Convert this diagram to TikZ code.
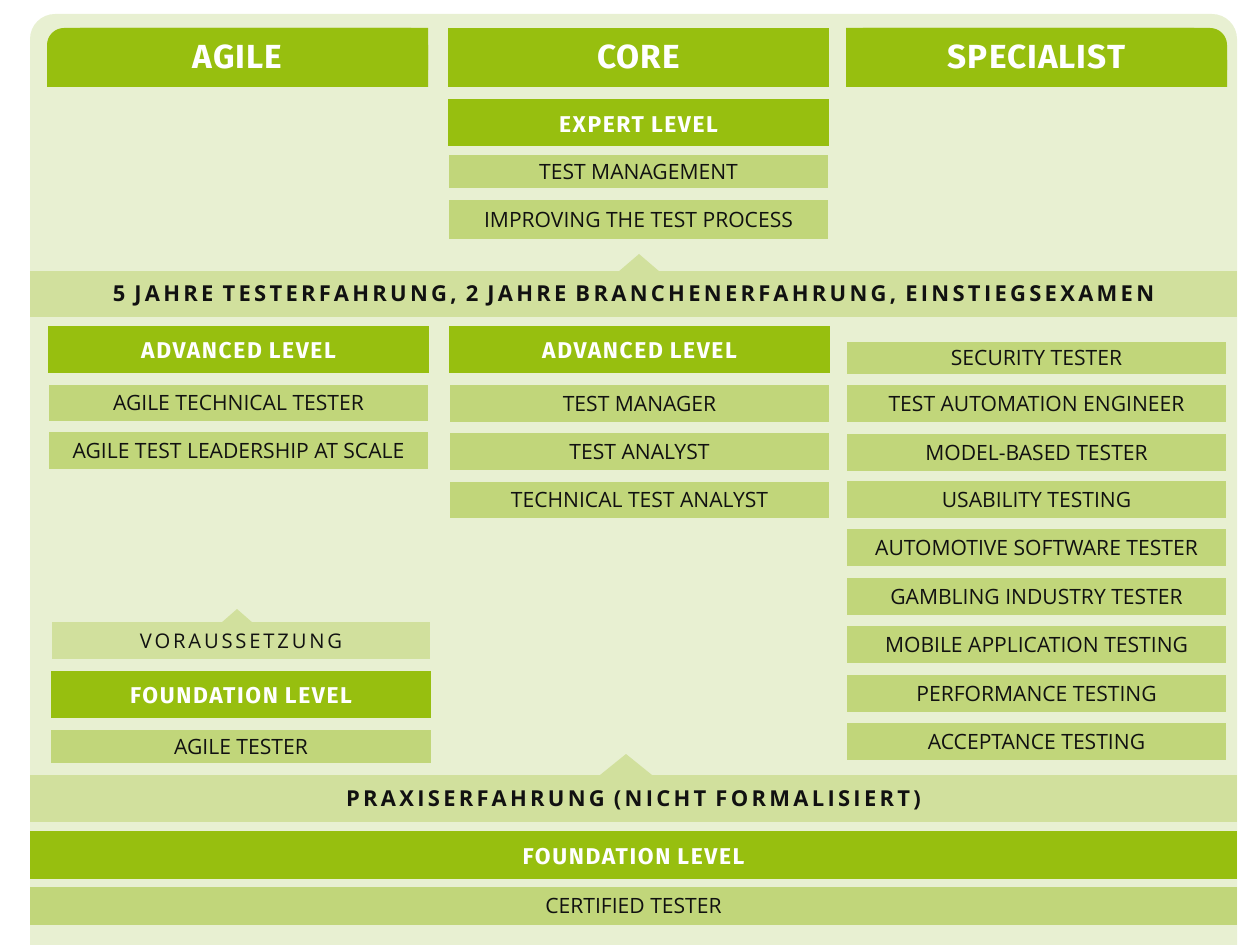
\documentclass[tikz,border=0pt]{standalone}
\usepackage{fontspec}
\setmainfont{Open Sans}
\newfontfamily\headfont[LetterSpace=3]{Fira Sans}
\newfontfamily\levelfont[LetterSpace=7]{Fira Sans}
\newfontfamily\bandfont[LetterSpace=15]{Open Sans}
\newfontfamily\spacedfont[LetterSpace=14]{Open Sans}
\definecolor{dkgreen}{HTML}{97BF0F}
\definecolor{midgreen}{HTML}{C1D67A}
\definecolor{bandgreen}{HTML}{D1E09D}
\definecolor{panelgreen}{HTML}{E8F0D2}
\definecolor{ink}{HTML}{111111}

\begin{document}
\begin{tikzpicture}[x=0.02cm, y=-0.02cm]
    \tikzstyle{headtext}=[inner sep=0pt, text=white, text height=13pt, text depth=0pt, font=\headfont\bfseries\fontsize{19}{22}\selectfont]
    \tikzstyle{headbox}=[headtext, fill=dkgreen, minimum width=7.62cm, minimum height=1.18cm]
    \tikzstyle{levelbox}=[inner sep=0pt, fill=dkgreen, text=white, minimum width=7.62cm, minimum height=0.94cm, text height=10.7pt, text depth=0pt, font=\levelfont\bfseries\fontsize{13}{15}\selectfont]
    \tikzstyle{itembox}=[inner sep=0pt, fill=midgreen, text=ink, minimum width=7.6cm, minimum height=0.74cm, text height=8.6pt, text depth=0pt, font=\fontsize{12}{14}\selectfont]
    \tikzstyle{bandbox}=[inner sep=0pt, fill=bandgreen, text=ink, minimum width=24.14cm, minimum height=0.94cm, text height=8.9pt, text depth=0pt, font=\bandfont\bfseries\fontsize{12.5}{14}\selectfont]

    \useasboundingbox (0,0) rectangle (1239,945);
    \fill[panelgreen, rounded corners=0.5cm] (30,14) rectangle (1237,990);

    \fill[dkgreen, rounded corners=0.34cm] (47,28) rectangle (428,87);
    \fill[dkgreen] (80,28) rectangle (428,87) (47,60) rectangle (428,87);
    \node[headtext] (agile) at (237.5,57.5) {AGILE};
    \node[headbox] (core) at (638.5,57.5) {CORE};
    \fill[dkgreen, rounded corners=0.34cm] (846,28) rectangle (1227,87);
    \fill[dkgreen] (846,28) rectangle (1194,87) (846,60) rectangle (1227,87);
    \node[headtext] (specialist) at (1036.5,57.5) {SPECIALIST};

    \node[levelbox] (expert) at (638.5,123) {EXPERT LEVEL};
    \node[itembox, minimum height=0.66cm] (testmgmt) at (638.5,171.5) {TEST MANAGEMENT};
    \node[itembox, minimum height=0.78cm] (improving) at (638.5,219.5) {IMPROVING THE TEST PROCESS};

    \fill[bandgreen] (618,272) -- (639,254) -- (660,272) -- cycle;
    \node[bandbox, minimum height=0.92cm] (jahre) at (633.5,294) {5 JAHRE TESTERFAHRUNG, 2 JAHRE BRANCHENERFAHRUNG, EINSTIEGSEXAMEN};

    \node[levelbox] (agileadv) at (238.5,349.5) {ADVANCED LEVEL};
    \node[itembox] (agiletech) at (238.5,403) {AGILE TECHNICAL TESTER};
    \node[itembox] (leadership) at (238.5,450.5) {AGILE TEST LEADERSHIP AT SCALE};

    \node[levelbox] (coreadv) at (639.5,349.5) {ADVANCED LEVEL};
    \node[itembox] (testmanager) at (639.5,403.5) {TEST MANAGER};
    \node[itembox] (testanalyst) at (639.5,451.5) {TEST ANALYST};
    \node[itembox] (techanalyst) at (639.5,500) {TECHNICAL TEST ANALYST};

    \node[itembox, minimum height=0.64cm] (security) at (1036.5,358) {SECURITY TESTER};
    \foreach \y/\t [count=\i] in {403.5/TEST AUTOMATION ENGINEER, 452.5/MODEL-BASED TESTER,
        499.5/USABILITY TESTING, 547.5/AUTOMOTIVE SOFTWARE TESTER, 596.5/GAMBLING INDUSTRY TESTER,
        644.5/MOBILE APPLICATION TESTING, 693.5/PERFORMANCE TESTING, 741.5/ACCEPTANCE TESTING}
        \node[itembox] (spec\i) at (1036.5,\y) {\t};

    \fill[bandgreen] (221,623) -- (237,609) -- (253,623) -- cycle;
    \node[itembox, fill=bandgreen, minimum width=7.56cm, font=\spacedfont\fontsize{11.5}{13}\selectfont] (voraussetzung) at (241,640.5) {VORAUSSETZUNG};
    \node[levelbox, minimum width=7.6cm] (agilefound) at (241,694.5) {FOUNDATION LEVEL};
    \node[itembox, minimum height=0.66cm] (agiletester) at (241,746.5) {AGILE TESTER};

    \fill[bandgreen] (600,775) -- (626,754) -- (652,775) -- cycle;
    \node[bandbox] (praxis) at (633.5,798.5) {PRAXISERFAHRUNG (NICHT FORMALISIERT)};
    \node[levelbox, minimum width=24.14cm, minimum height=0.96cm] (foundation) at (633.5,855) {FOUNDATION LEVEL};
    \node[itembox, minimum width=24.14cm, minimum height=0.76cm] (certified) at (633.5,906) {CERTIFIED TESTER};
\end{tikzpicture}
\end{document}
